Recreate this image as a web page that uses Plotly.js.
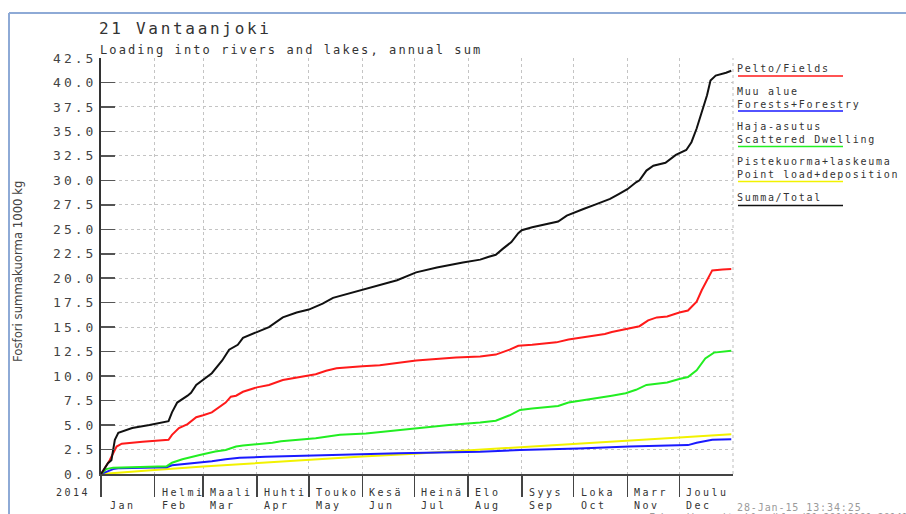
<!DOCTYPE html>
<html><head><meta charset="utf-8">
<script src="https://cdn.plot.ly/plotly-3.0.1.min.js"></script>
<style>
html,body{margin:0;padding:0;background:#fff;}
#chart{width:906px;height:514px;}
.ytick text{letter-spacing:3px;}
.gtitle{letter-spacing:2.7px;}
</style></head><body><div id="chart"></div>
<script>
// ---- data ----
const totalDates = ['2014-01-01','2014-01-05','2014-01-07','2014-01-09','2014-01-11','2014-01-19','2014-01-29','2014-02-09','2014-02-11','2014-02-14','2014-02-20','2014-02-22','2014-02-25','2014-02-28','2014-03-06','2014-03-12','2014-03-16','2014-03-21','2014-03-24','2014-04-01','2014-04-08','2014-04-16','2014-04-24','2014-05-01','2014-05-09','2014-05-15','2014-05-25','2014-06-09','2014-06-21','2014-07-02','2014-07-14','2014-07-29','2014-08-08','2014-08-13','2014-08-17','2014-08-21','2014-08-26','2014-08-30','2014-09-01','2014-09-07','2014-09-15','2014-09-22','2014-09-27','2014-10-01','2014-10-07','2014-10-13','2014-10-18','2014-10-22','2014-10-27','2014-11-01','2014-11-06','2014-11-08','2014-11-12','2014-11-16','2014-11-23','2014-11-29','2014-12-05','2014-12-08','2014-12-11','2014-12-14','2014-12-17','2014-12-19','2014-12-22','2014-12-28','2014-12-31'];
const totalVals = [0,1.1,1.4,3.5,4.2,4.7,5.0,5.4,6.3,7.3,8.0,8.3,9.1,9.5,10.3,11.6,12.7,13.2,13.9,14.5,15.0,16.0,16.5,16.8,17.4,18.0,18.5,19.2,19.8,20.6,21.1,21.6,21.9,22.2,22.4,23.0,23.7,24.6,24.9,25.2,25.5,25.8,26.4,26.7,27.1,27.5,27.8,28.1,28.6,29.1,29.8,30.0,31.0,31.5,31.8,32.6,33.1,33.9,35.3,37.0,38.7,40.2,40.7,41.0,41.2];

const fieldsDates = ['2014-01-01','2014-01-06','2014-01-10','2014-01-13','2014-01-25','2014-02-09','2014-02-11','2014-02-15','2014-02-20','2014-02-25','2014-03-01','2014-03-06','2014-03-14','2014-03-17','2014-03-20','2014-03-24','2014-04-01','2014-04-08','2014-04-16','2014-04-24','2014-05-05','2014-05-11','2014-05-17','2014-06-01','2014-06-11','2014-07-02','2014-07-25','2014-08-08','2014-08-17','2014-08-25','2014-08-30','2014-09-07','2014-09-21','2014-09-28','2014-10-06','2014-10-19','2014-10-23','2014-11-01','2014-11-08','2014-11-13','2014-11-18','2014-11-24','2014-12-01','2014-12-06','2014-12-11','2014-12-14','2014-12-17','2014-12-20','2014-12-26','2014-12-31'];
const fieldsVals = [0,1.4,2.8,3.1,3.3,3.5,4.0,4.7,5.1,5.8,6.0,6.3,7.3,7.9,8.0,8.4,8.85,9.1,9.6,9.85,10.2,10.55,10.8,11.0,11.1,11.6,11.9,12.0,12.2,12.7,13.1,13.2,13.45,13.75,13.95,14.3,14.5,14.8,15.1,15.7,16.0,16.1,16.5,16.7,17.6,18.8,19.8,20.8,20.9,20.95];

const dwellingDates = ['2014-01-01','2014-01-04','2014-01-08','2014-01-16','2014-01-29','2014-02-08','2014-02-11','2014-02-17','2014-02-27','2014-03-08','2014-03-14','2014-03-20','2014-03-24','2014-04-03','2014-04-10','2014-04-15','2014-04-26','2014-05-05','2014-05-11','2014-05-19','2014-06-03','2014-06-22','2014-07-04','2014-07-21','2014-08-08','2014-08-17','2014-08-25','2014-08-31','2014-09-07','2014-09-22','2014-09-28','2014-10-06','2014-10-18','2014-10-23','2014-10-31','2014-11-06','2014-11-12','2014-11-18','2014-11-24','2014-12-01','2014-12-06','2014-12-11','2014-12-16','2014-12-21','2014-12-31'];
const dwellingVals = [0,0.5,0.65,0.7,0.75,0.8,1.15,1.5,1.95,2.3,2.45,2.8,2.9,3.05,3.2,3.35,3.5,3.65,3.8,4.0,4.15,4.5,4.7,5.0,5.25,5.45,6.0,6.55,6.7,6.95,7.3,7.5,7.8,8.0,8.25,8.6,9.1,9.25,9.35,9.7,9.9,10.6,11.8,12.4,12.6];

const forestDates = ['2014-01-01','2014-01-08','2014-01-12','2014-02-08','2014-02-11','2014-02-27','2014-03-06','2014-03-14','2014-03-22','2014-04-06','2014-04-26','2014-05-15','2014-06-22','2014-08-08','2014-08-31','2014-10-04','2014-11-02','2014-12-06','2014-12-11','2014-12-20','2014-12-31'];
const forestVals = [0,0.5,0.6,0.7,0.9,1.15,1.3,1.5,1.65,1.75,1.85,2.0,2.12,2.28,2.45,2.6,2.8,2.95,3.2,3.5,3.55];

const pointDates = ['2014-01-01','2014-01-15','2014-02-01','2014-03-01','2014-04-01','2014-05-01','2014-06-01','2014-07-01','2014-08-01','2014-09-01','2014-10-01','2014-11-01','2014-12-01','2014-12-31'];
const pointVals = [0,0.2,0.4,0.76,1.12,1.47,1.8,2.08,2.4,2.72,3.05,3.38,3.72,4.05];

const monthStarts = ['2014-01-01','2014-02-01','2014-03-01','2014-04-01','2014-05-01','2014-06-01','2014-07-01','2014-08-01','2014-09-01','2014-10-01','2014-11-01','2014-12-01'];
const monthsFi = ['','Helmi','Maali','Huhti','Touko','Kesä','Heinä','Elo','Syys','Loka','Marr','Joulu'];
const monthsEn = ['Jan','Feb','Mar','Apr','May','Jun','Jul','Aug','Sep','Oct','Nov','Dec'];
const yearLabel = '2014';

const legendRows = [['Pelto/Fields'],['Muu alue','Forests+Forestry'],['Haja-asutus','Scattered Dwelling'],['Pistekuorma+laskeuma','Point load+deposition'],['Summa/Total']];

const chartTitle = '21 Vantaanjoki';
const chartSubtitle = 'Loading into rivers and lakes, annual sum';
const yTitle = 'Fosfori summakuorma 1000 kg';
const stamp = '28-Jan-15 13:34:25';
const fileLine = 'F:\\vesikuormitus\\load\\load21_20140101_20141231';

// ---- styling ----
const MONO = 'DejaVu Sans Mono, monospace';
const colors = {fields:'#ff1a1a', forest:'#1a1aff', dwelling:'#22ee22', point:'#f2f200', total:'#111111'};
const legendColors = [colors.fields, colors.forest, colors.dwelling, colors.point, colors.total];

// plot area pixel geometry (for placing texts outside the plot)
const L = 101, R = 733, T = 58, B = 474;
const px = x => (x - L) / (R - L);
const py = y => (B - y) / (B - T);
const sp = (t, s) => '<span style="letter-spacing:' + s + 'px">' + t + '</span>';

function line(x, y, c) {
  return {type:'scatter', mode:'lines', x:x, y:y, line:{color:c, width:2}, hoverinfo:'skip'};
}
const traces = [
  line(pointDates, pointVals, colors.point),
  line(forestDates, forestVals, colors.forest),
  line(dwellingDates, dwellingVals, colors.dwelling),
  line(fieldsDates, fieldsVals, colors.fields),
  line(totalDates, totalVals, colors.total)
];

const annotations = [];
const shapes = [];
const small = {family:MONO, size:10, color:'#333'};

// subtitle
annotations.push({text: sp(chartSubtitle, 2.1), xref:'paper', yref:'paper', x:px(98), y:py(50), xanchor:'left', yanchor:'middle', showarrow:false, font:{family:MONO, size:12, color:'#333'}});
// y title
annotations.push({text: yTitle, xref:'paper', yref:'paper', x:px(17), y:py(272), xanchor:'center', yanchor:'middle', textangle:-90, showarrow:false, font:{family:'Liberation Sans Narrow, DejaVu Sans Condensed, sans-serif', size:13, color:'#444'}});
// year label
annotations.push({text: sp(yearLabel, 2.5), xref:'paper', yref:'paper', x:px(54), y:py(492), xanchor:'left', yanchor:'middle', showarrow:false, font:small});
// month labels (two rows: Finnish over English)
monthStarts.forEach((d, i) => {
  const txt = monthsFi[i] ? sp(monthsFi[i], 2.5) + '<br>' + sp(monthsEn[i], 2.5) : sp(monthsEn[i], 2.5);
  annotations.push({text: txt, align:'left', xref:'x', yref:'paper', x:d, xshift:i===0?8:6,
    y: monthsFi[i] ? py(498.5) : py(505), xanchor:'left', yanchor:'middle', showarrow:false, borderpad:0, font:small});
});
// legend
legendRows.forEach((rows, i) => {
  const centers = [68, 97.5, 133, 167.5, 197];
  annotations.push({text: rows.map(t => sp(t, 1.7)).join('<br>'), align:'left', xref:'paper', yref:'paper', x:px(736), y:py(centers[i]), xanchor:'left', yanchor:'middle', showarrow:false, borderpad:0, font:small});
});
const legendLineY = [76,111,146.5,181.5,205.5];
legendLineY.forEach((y, i) => {
  shapes.push({type:'line', xref:'paper', yref:'paper', x0:px(738), x1:px(843), y0:py(y), y1:py(y), line:{color:legendColors[i], width:1.5}});
});
// timestamp + file path
annotations.push({text: sp(stamp, 0.9), xref:'paper', yref:'paper', x:px(736), y:py(507), xanchor:'left', yanchor:'middle', showarrow:false, borderpad:0, font:{family:MONO, size:10, color:'#9a9a9a'}});
annotations.push({text: fileLine, xref:'paper', yref:'paper', x:px(648), y:py(518), xanchor:'left', yanchor:'middle', showarrow:false, borderpad:0, font:{family:MONO, size:10, color:'#9a9a9a'}});

// right plot border (dotted) and outer blue frame
shapes.push({type:'line', xref:'paper', yref:'paper', x0:1, x1:1, y0:0, y1:1, line:{color:'#bdbdbd', width:1, dash:'dot'}});
shapes.push({type:'line', xref:'paper', yref:'paper', x0:px(9), x1:px(906), y0:py(13), y1:py(13), line:{color:'#8eaad6', width:2}});
shapes.push({type:'line', xref:'paper', yref:'paper', x0:px(9), x1:px(9), y0:py(13), y1:py(520), line:{color:'#8eaad6', width:2}});

const layout = {
  width:906, height:514,
  margin:{l:L, r:906-R, t:T, b:514-B},
  paper_bgcolor:'#fff', plot_bgcolor:'#fff',
  showlegend:false, hovermode:false,
  title:{text:chartTitle, xref:'container', yref:'container', x:99/906, y:1-28/514, xanchor:'left', yanchor:'middle', font:{family:MONO, size:16, color:'#333'}},
  xaxis:{type:'date', range:['2014-01-01','2015-01-01'], tickvals:monthStarts, showticklabels:false,
         ticks:'outside', ticklen:21, tickwidth:1.5, tickcolor:'#444',
         showgrid:true, gridcolor:'#c4c4c4', griddash:'dot', gridwidth:1,
         showline:true, linecolor:'#444', linewidth:1.5, zeroline:false, fixedrange:true},
  yaxis:{range:[0,42.5], tick0:0, dtick:2.5, tickformat:'.1f', ticks:'inside', ticklen:14, tickwidth:1.5, tickcolor:'#555',
         showgrid:true, gridcolor:'#c4c4c4', griddash:'dot', gridwidth:1,
         showline:true, linecolor:'#333', linewidth:2, zeroline:false, fixedrange:true,
         tickfont:{family:MONO, size:13, color:'#444'}},
  annotations:annotations, shapes:shapes
};

Plotly.newPlot('chart', traces, layout, {staticPlot:true, displayModeBar:false});
</script></body></html>
